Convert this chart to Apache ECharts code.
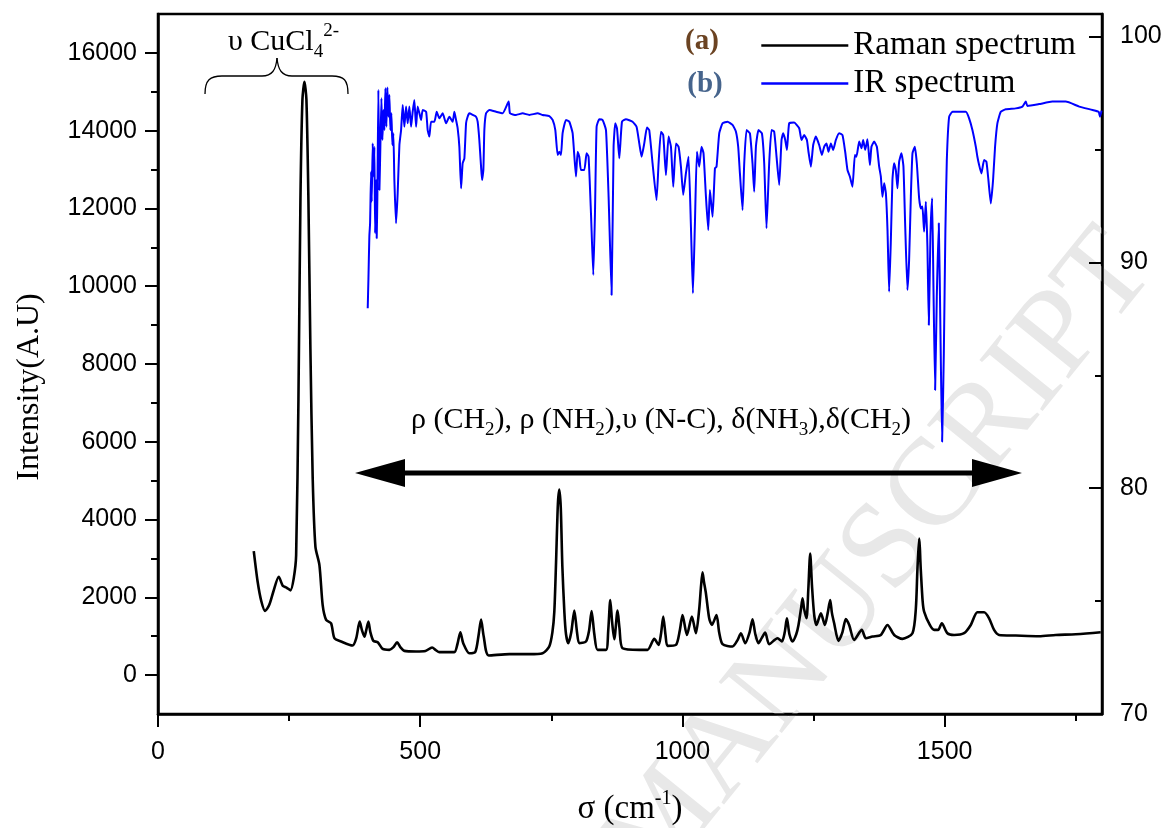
<!DOCTYPE html>
<html><head><meta charset="utf-8">
<script src="https://cdn.jsdelivr.net/npm/echarts@6/dist/echarts.min.js"></script>
<style>html,body{margin:0;padding:0;background:#fff}#c{width:1168px;height:828px}</style>
</head><body><div id="c"></div>
<script>
// ---- Data ----
const ramanSigma = [182.6,190,197,204.3,212,220,230.2,237.8,245,252.5,258.8,263.4,267.8,271.6,275.4,279.2,283,286.8,290.6,295,300.2,307.8,314,320.6,330,336.4,349,371,378,384.6,389,393.6,397,401.2,405,410.7,419,428.4,441.2,449,455.9,462,469.8,492,510,522.6,530,536.5,565,571,576.5,582,593.7,605,611,616,621,630.5,670,708,733.4,746,752,755.7,759,762.5,765.2,768,771,774.8,778,782.4,788,793.8,799,803.3,816,822,826.8,832,838.2,854.2,858.5,862.4,866,870,876.3,880,885.8,917.7,933.5,946.3,954.5,959,963.4,968,971.6,987.6,995,1000.2,1008.5,1018,1025.7,1032,1035.5,1038.3,1041,1044.8,1051,1056.2,1065,1070,1076.5,1095.5,1105,1111.5,1119.7,1128,1133.6,1139,1145,1151,1157.8,1165.4,1181.3,1189.6,1195,1199.2,1204,1209.9,1217,1221.3,1226,1229,1232,1236.6,1240,1243.6,1247,1251.2,1255.6,1264,1271.6,1277,1281.7,1285,1289.3,1297.5,1305,1311.6,1317.9,1327.4,1342,1349.7,1362.3,1378.3,1391,1403.7,1419.5,1438.6,1445,1448,1451.3,1454.5,1458,1460.8,1471.7,1480,1487.5,1494.5,1505.2,1518,1537,1549.8,1562.4,1575.2,1584.7,1594.2,1603.7,1635.6,1680,1711.8,1750,1797.5];
const ramanIntensity = [3187,2400,1900,1649,1800,2150,2531,2300,2250,2179,2487,3085,7100,12230,14800,15256,14800,12230,8380,5050,3300,2830,1800,1420,1333,950,865,760,950,1377,1150,990,1150,1377,1100,880,846,674,650,720,846,720,623,608,620,710,640,590,590,800,1103,820,564,600,1000,1428,1000,505,540,540,564,736,1100,1633,2900,4400,4770,4300,2800,1633,1050,820,1100,1660,1100,820,864,1150,1650,1050,650,650,1150,1930,1350,923,1660,1200,692,650,650,931,777,1050,1505,1000,751,777,1150,1546,1033,1505,1077,1700,2300,2641,2400,2100,1461,1290,1546,1100,795,736,900,1077,820,1100,1436,1050,820,950,1095,795,949,864,1100,1461,1050,864,1050,1290,1700,1974,1700,1461,2200,3128,2300,1546,1290,1590,1290,1600,1931,1600,1333,880,1100,1444,1290,905,1162,949,992,1033,1290,1033,931,1077,1700,2700,3513,2700,1900,1633,1290,1162,1162,1333,1077,1033,1077,1290,1615,1615,1461,1162,1033,1018,1000,1033,1050,1103];

const irSigma = [399.9,401.2,403,404.4,406.3,407.5,409.4,411.3,412.6,414,415.9,417,418.3,420.2,422.2,424,426,427.9,429.8,431.7,433.6,435.5,437.4,439.3,441.2,443.1,445,446.9,448.8,450.7,453.9,457,460.3,463.5,466.6,469.8,473,476.1,479.3,482.6,485.6,488.8,492.1,495.1,498.4,501.6,504.7,511.2,514.2,517.4,520.7,527,531.4,536.5,542.8,549.3,555.6,561.9,565.1,568.3,571.4,574.6,577.9,580.9,584.2,587.4,590.4,593.7,600,606.4,609.5,612.7,616,617.9,620.4,622.3,625.5,631.8,644.6,657.1,668.6,671.2,682.7,695.3,708,723.8,733.4,746.2,752.5,757.6,762,765.2,768.4,771.5,777.9,784.3,790.6,797,800.1,803.3,806.5,812.9,817.2,821,825.6,830,833.2,836.3,841.4,847.7,854.2,859.2,864.9,868.7,871.9,875.2,879.6,884.7,892.3,904.9,912.5,917.7,922.1,927.2,932.3,936.7,943,950.6,954.5,959,963.4,968.5,973.5,978.1,982.5,987.6,992.6,997.1,1001.5,1006.6,1011.6,1016.2,1020,1023.8,1027.6,1032,1036.4,1040.2,1044.8,1049.2,1052.4,1057.4,1062,1065,1070.2,1076.5,1086,1095.5,1102,1106.3,1109.6,1114.6,1117.8,1122.2,1128.6,1133.6,1136.8,1140.1,1145,1151.5,1155.9,1160.3,1165.4,1169.8,1174.9,1179.4,1184.5,1188.9,1192.1,1196,1199.2,1203.5,1213,1222.6,1227,1232.1,1237.3,1240.3,1244.9,1249.3,1254.4,1260.7,1265.9,1270.2,1274.6,1278.5,1283,1287.4,1292.5,1298.8,1305.1,1310.3,1314.7,1319.2,1324.2,1328.8,1331.8,1337,1341.4,1344.6,1348.5,1352.8,1357.4,1360.4,1365.5,1370.7,1375.1,1378.3,1381.3,1384.6,1387.9,1391,1394.1,1397.4,1400.4,1403.6,1406.9,1410,1413.2,1417.6,1421.4,1424.6,1429,1432.2,1435.5,1438.6,1443.1,1446.9,1451.3,1454.6,1457.6,1460.8,1464.1,1467.1,1469.8,1472.8,1476.1,1478.6,1481.8,1485,1488.8,1491.9,1495.1,1498.4,1501.4,1504.1,1508.5,1514.8,1527.5,1540.3,1546.6,1552.9,1559.4,1562.4,1565.7,1570,1575.2,1579.6,1583.4,1588,1592.3,1596.1,1600.5,1607,1616.5,1635.6,1648.2,1654.6,1657.7,1680,1705.4,1730.9,1756.6,1782,1793.6,1796.2,1799.2];
const irTransmittance = [87.97,89.22,91.14,91.73,94.02,92.69,95.27,93.8,95.12,91.29,93.65,91.07,92.91,97.64,93.21,95.12,97.27,95.42,96.75,95.86,97.71,96.01,97.75,96.45,97.41,95.86,96.6,95.2,95.72,93.65,91.73,93.06,95.2,95.86,96.97,96.01,96.9,96.16,96.9,96.01,96.67,97.19,96.01,96.9,96.6,96.31,96.75,96.67,95.86,95.57,96.23,96.23,96.67,96.38,96.6,96.16,96.45,96.23,96.67,96.31,95.94,95.12,93.28,94.39,94.61,96.16,96.45,96.6,96.53,96.45,96.23,95.42,94.24,93.65,94.09,95.86,96.6,96.75,96.67,96.6,97.12,96.6,96.53,96.6,96.53,96.6,96.53,96.48,96.31,95.86,94.76,94.9,94.76,95.72,96.31,96.23,95.72,93.8,94.9,94.68,94.09,94.09,94.83,94.68,92.17,89.44,92.17,96.01,96.34,96.31,95.86,92.91,88.56,95.12,96.16,95.94,94.61,96.23,96.34,96.23,96.01,95.27,94.68,95.27,95.97,95.86,94.39,92.76,94.39,95.79,95.64,93.87,95.57,95.12,93.35,95.27,95.12,94.24,92.99,93.94,94.68,91.58,88.63,91.73,94.9,94.24,95.12,94.83,92.91,91.43,93.21,92.02,94.17,94.24,95.72,96.16,96.23,96.09,95.79,95.12,93.94,92.32,94.39,95.86,95.72,94.39,93.13,95.12,95.86,95.72,94.39,91.51,94.39,95.86,95.79,94.68,93.43,95.42,95.72,95.42,94.98,96.16,96.19,95.94,95.42,95.64,95.42,94.9,94.24,95.2,95.57,95.2,94.76,95.12,95.27,94.9,95.27,94.98,95.42,95.72,95.64,94.9,94.09,93.8,93.35,94.76,94.68,95.35,95.05,95.42,94.98,95.45,94.31,95.12,95.35,95.12,94.24,93.8,92.91,93.5,93.06,91.43,88.7,90.99,93.65,94.39,94.09,93.28,94.46,94.83,94.24,91.73,88.78,90.11,92.91,94.83,95.12,94.39,92.84,92.39,92.47,91.36,92.69,90.7,87.23,91.14,92.84,88.93,84.35,88.48,91.73,87.01,82.06,85.97,91.43,94.53,96.45,96.67,96.67,96.67,96.38,95.86,95.12,94.68,94.31,93.94,94.53,94.46,93.65,92.61,93.65,95.12,96.16,96.67,96.78,96.82,96.9,97.12,96.93,97.01,97.12,97.12,96.9,96.75,96.67,96.45,96.72];

const xMajorTicks = [0, 500, 1000, 1500];
const xMinorTicks = [250, 750, 1250, 1750];
const leftMajorTicks = [0, 2000, 4000, 6000, 8000, 10000, 12000, 14000, 16000];
const leftMinorTicks = [1000, 3000, 5000, 7000, 9000, 11000, 13000, 15000];
const rightMajorTicks = [70, 80, 90, 100];
const rightMinorTicks = [75, 85, 95];

// ---- Chart ----
const SANS = 'Liberation Sans';
const SERIF = 'Liberation Serif';
const chart = echarts.init(document.getElementById('c'), null, {renderer: 'canvas'});

const ramanData = ramanSigma.map((s, i) => [s, ramanIntensity[i]]);
const irData = irSigma.map((s, i) => [s, irTransmittance[i]]);

const gridRect = {left: 158, right: 66, top: 14, bottom: 114, outerBoundsMode: 'none'};
const plain = v => String(v);
const lbl = {color: '#000', fontFamily: SANS, fontSize: 25, formatter: plain};
const braceStyle = {fill: 'none', stroke: '#000', lineWidth: 1.3};

function bez(x1, y1, cx1, cy1, cx2, cy2, x2, y2) {
  return {type: 'bezierCurve', z: 10, silent: true,
    shape: {x1: x1, y1: y1, cpx1: cx1, cpy1: cy1, cpx2: cx2, cpy2: cy2, x2: x2, y2: y2}, style: braceStyle};
}
function seg(x1, y1, x2, y2) {
  return {type: 'line', z: 10, silent: true, shape: {x1: x1, y1: y1, x2: x2, y2: y2}, style: braceStyle};
}
const hiddenLine = {show: false, onZero: false};

const option = {
  animation: false,
  backgroundColor: '#fff',
  grid: [
    Object.assign({show: true, borderColor: '#000', borderWidth: 2.5, containLabel: false}, gridRect),
    Object.assign({show: false, containLabel: false}, gridRect)
  ],
  legend: {
    data: ['Raman spectrum', 'IR spectrum'],
    orient: 'vertical', left: 755, top: 24,
    itemWidth: 87, itemHeight: 12, itemGap: 5,
    itemStyle: {opacity: 0},
    lineStyle: {width: 2.6},
    textStyle: {fontFamily: SERIF, fontSize: 33, color: '#000'}
  },
  xAxis: [
    {type: 'value', gridIndex: 0, min: 0, max: 1800, position: 'bottom',
     axisLine: {show: true, onZero: false, lineStyle: {color: '#000', width: 2.5}},
     axisTick: {show: true, inside: false, length: 13, lineStyle: {color: '#000', width: 2}, customValues: xMajorTicks},
     axisLabel: Object.assign({margin: 26, customValues: xMajorTicks}, lbl),
     splitLine: {show: false},
     name: 'σ (cm{sup|-1})', nameLocation: 'middle', nameGap: 75,
     nameTextStyle: {fontFamily: SERIF, fontSize: 33, color: '#000', lineHeight: 40,
       rich: {sup: {fontFamily: SERIF, fontSize: 20, color: '#000', verticalAlign: 'top', lineHeight: 20}}}},
    {type: 'value', gridIndex: 1, min: 0, max: 1800, position: 'bottom',
     axisLine: hiddenLine, axisLabel: {show: false}, splitLine: {show: false},
     axisTick: {show: true, inside: false, length: 7, lineStyle: {color: '#000', width: 2}, customValues: xMinorTicks}}
  ],
  yAxis: [
    {type: 'value', gridIndex: 0, min: -1000, max: 17000, position: 'left',
     axisLine: {show: true, onZero: false, lineStyle: {color: '#000', width: 2.5}},
     axisTick: {show: true, inside: false, length: 13, lineStyle: {color: '#000', width: 2}, customValues: leftMajorTicks},
     axisLabel: Object.assign({margin: 21, customValues: leftMajorTicks}, lbl),
     splitLine: {show: false},
     name: 'Intensity(A.U)', nameLocation: 'middle', nameGap: 112, nameRotate: 90,
     nameTextStyle: {fontFamily: SERIF, fontSize: 32, color: '#000', padding: [0, 46, 0, 0]}},
    {type: 'value', gridIndex: 0, min: 70, max: 101, position: 'right',
     axisLine: {show: true, onZero: false, lineStyle: {color: '#000', width: 2.5}},
     axisTick: {show: true, inside: true, length: 13, lineStyle: {color: '#000', width: 2}, customValues: rightMajorTicks},
     axisLabel: Object.assign({margin: 18, customValues: rightMajorTicks}, lbl),
     splitLine: {show: false}},
    {type: 'value', gridIndex: 1, min: -1000, max: 17000, position: 'left',
     axisLine: hiddenLine, axisLabel: {show: false}, splitLine: {show: false},
     axisTick: {show: true, inside: false, length: 7, lineStyle: {color: '#000', width: 2}, customValues: leftMinorTicks}},
    {type: 'value', gridIndex: 1, min: 70, max: 101, position: 'right',
     axisLine: hiddenLine, axisLabel: {show: false}, splitLine: {show: false},
     axisTick: {show: true, inside: true, length: 7, lineStyle: {color: '#000', width: 2}, customValues: rightMinorTicks}}
  ],
  series: [
    {name: 'Raman spectrum', type: 'line', xAxisIndex: 0, yAxisIndex: 0, data: ramanData,
     showSymbol: false, symbol: 'none', z: 3, smooth: 0.25,
     lineStyle: {color: '#000', width: 2.6}, itemStyle: {color: '#000'}},
    {name: 'IR spectrum', type: 'line', xAxisIndex: 0, yAxisIndex: 1, data: irData,
     showSymbol: false, symbol: 'none', z: 3, smooth: 0.15,
     lineStyle: {color: '#0000ff', width: 2}, itemStyle: {color: '#0000ff'}}
  ],
  graphic: [
    // faint watermark
    {type: 'text', x: 880, y: 560, rotation: 51 * Math.PI / 180, z: 0, silent: true,
     style: {text: 'MANUSCRIPT', fontFamily: SERIF, fontSize: 124, fill: '#e8e8e8', align: 'center', verticalAlign: 'middle'}},
    // curly brace
    bez(205, 94, 205, 80, 210, 76, 222, 76),
    seg(222, 76, 262, 76),
    bez(262, 76, 272, 76, 276, 70, 277, 58),
    bez(277, 58, 278, 70, 282, 76, 292, 76),
    seg(292, 76, 332, 76),
    bez(332, 76, 344, 76, 348, 80, 348, 94),
    // CuCl4 2- label
    {type: 'text', x: 228, y: 42, z: 10,
     style: {text: 'υ CuCl{sub|4}{sup|2-}', fontFamily: SERIF, fontSize: 30, fill: '#000', lineHeight: 40,
       align: 'left', verticalAlign: 'middle',
       rich: {sub: {fontFamily: SERIF, fontSize: 19, fill: '#000', verticalAlign: 'bottom', lineHeight: 19},
              sup: {fontFamily: SERIF, fontSize: 19, fill: '#000', verticalAlign: 'top', lineHeight: 19}}}},
    // assignment text
    {type: 'text', x: 661, y: 420, z: 10,
     style: {text: 'ρ (CH{sub|2}), ρ (NH{sub|2}),υ (N-C), δ(NH{sub|3}),δ(CH{sub|2})', fontFamily: SERIF, fontSize: 30, fill: '#000', lineHeight: 40,
       align: 'center', verticalAlign: 'middle',
       rich: {sub: {fontFamily: SERIF, fontSize: 19, fill: '#000', verticalAlign: 'bottom', lineHeight: 19}}}},
    // double arrow
    {type: 'line', z: 10, shape: {x1: 395, y1: 473, x2: 982, y2: 473}, style: {stroke: '#000', lineWidth: 5}},
    {type: 'polygon', z: 10, shape: {points: [[355, 473], [405, 459], [405, 487]]}, style: {fill: '#000'}},
    {type: 'polygon', z: 10, shape: {points: [[1022, 473], [972, 459], [972, 487]]}, style: {fill: '#000'}},
    // (a) (b)
    {type: 'text', x: 702, y: 42, z: 10,
     style: {text: '(a)', fontFamily: SERIF, fontWeight: 'bold', fontSize: 29, fill: '#6b4322', align: 'center', verticalAlign: 'middle'}},
    {type: 'text', x: 705, y: 85, z: 10,
     style: {text: '(b)', fontFamily: SERIF, fontWeight: 'bold', fontSize: 29, fill: '#46648c', align: 'center', verticalAlign: 'middle'}}
  ]
};
chart.setOption(option);
</script>
</body></html>
